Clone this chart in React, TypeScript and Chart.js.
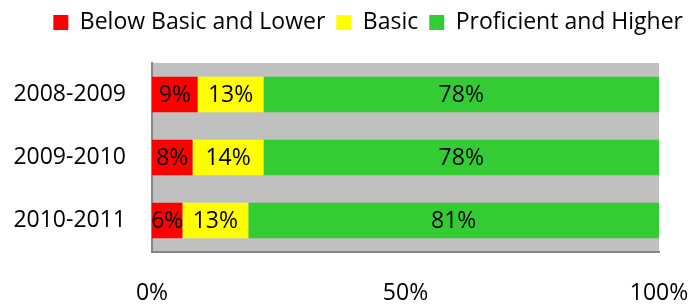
import React, { useEffect, useRef } from "react";
import { Chart, registerables } from "chart.js";

Chart.register(...registerables);

const categories = ["2008-2009", "2009-2010", "2010-2011"];
const seriesNames = ["Below Basic and Lower", "Basic", "Proficient and Higher"];
const belowBasic = [9, 8, 6];
const basic = [13, 14, 13];
const proficient = [78, 78, 81];
const xTickValues = [0, 50, 100];
const xTickLabels = ["0%", "50%", "100%"];

const FONT = "'Open Sans', sans-serif";

const plotBackground = {
  id: "plotBackground",
  beforeDraw(chart: any) {
    const { ctx, chartArea } = chart;
    ctx.save();
    ctx.fillStyle = "#C0C0C0";
    ctx.fillRect(chartArea.left, chartArea.top, chartArea.right - chartArea.left, chartArea.bottom - chartArea.top);
    ctx.restore();
  },
};

const legendHeight = {
  id: "legendHeight",
  afterInit(chart: any) {
    const lg = chart.legend;
    if (!lg) return;
    const orig = lg.fit;
    lg.fit = function () {
      orig.call(this);
      this.height = 63;
    };
  },
};

const barLabels = {
  id: "barLabels",
  afterDatasetsDraw(chart: any) {
    const { ctx } = chart;
    ctx.save();
    ctx.font = `23px ${FONT}`;
    ctx.fillStyle = "#000000";
    ctx.textAlign = "center";
    ctx.textBaseline = "middle";
    chart.data.datasets.forEach((ds: any, di: number) => {
      const meta = chart.getDatasetMeta(di);
      meta.data.forEach((el: any, i: number) => {
        const p = el.getCenterPoint();
        ctx.fillText(`${ds.data[i]}%`, p.x, p.y + 1);
      });
    });
    ctx.restore();
  },
};

export default function App() {
  const ref = useRef<HTMLCanvasElement>(null);
  useEffect(() => {
    if (!ref.current) return;
    const chart = new Chart(ref.current, {
      type: "bar",
      data: {
        labels: categories,
        datasets: [
          { label: seriesNames[0], data: belowBasic, backgroundColor: "#FF0000" },
          { label: seriesNames[1], data: basic, backgroundColor: "#FFFF00" },
          { label: seriesNames[2], data: proficient, backgroundColor: "#33CC33" },
        ],
      },
      options: {
        indexAxis: "y",
        animation: false,
        responsive: true,
        maintainAspectRatio: false,
        layout: { padding: { top: 0, right: -4, left: 0, bottom: 0 } },
        datasets: { bar: { barPercentage: 0.565, categoryPercentage: 1 } },
        plugins: {
          legend: {
            position: "top",
            align: "end",
            labels: {
              boxWidth: 15,
              boxHeight: 15,
              padding: 11,
              color: "#000000",
              font: { family: FONT, size: 23 },
            },
          },
          tooltip: { enabled: false },
        },
        scales: {
          x: {
            stacked: true,
            min: 0,
            max: 100,
            afterBuildTicks(scale: any) {
              scale.ticks = xTickValues.map((v) => ({ value: v }));
            },
            afterFit(scale: any) {
              scale.height = 52;
              scale.paddingLeft = 0;
              scale.paddingRight = 31;
            },
            ticks: {
              color: "#000000",
              font: { family: FONT, size: 23 },
              padding: 28,
              maxRotation: 0,
              callback: (v: any) => xTickLabels[xTickValues.indexOf(Number(v))] ?? "",
            },
            grid: { display: false, drawTicks: false },
            border: { display: true, color: "#868686", width: 2 },
          },
          y: {
            stacked: true,
            afterFit(scale: any) {
              scale.width = 152;
              scale.paddingTop = 0;
              scale.paddingBottom = 0;
            },
            ticks: {
              color: "#000000",
              font: { family: FONT, size: 23 },
              padding: 26,
            },
            grid: { display: false, drawTicks: false },
            border: { display: true, color: "#868686", width: 2 },
          },
        },
      },
      plugins: [legendHeight, plotBackground, barLabels],
    });
    return () => chart.destroy();
  }, []);
  return (
    <div style={{ position: "absolute", left: 0, top: 0, width: 690, height: 304 }}>
      <canvas ref={ref} />
    </div>
  );
}
